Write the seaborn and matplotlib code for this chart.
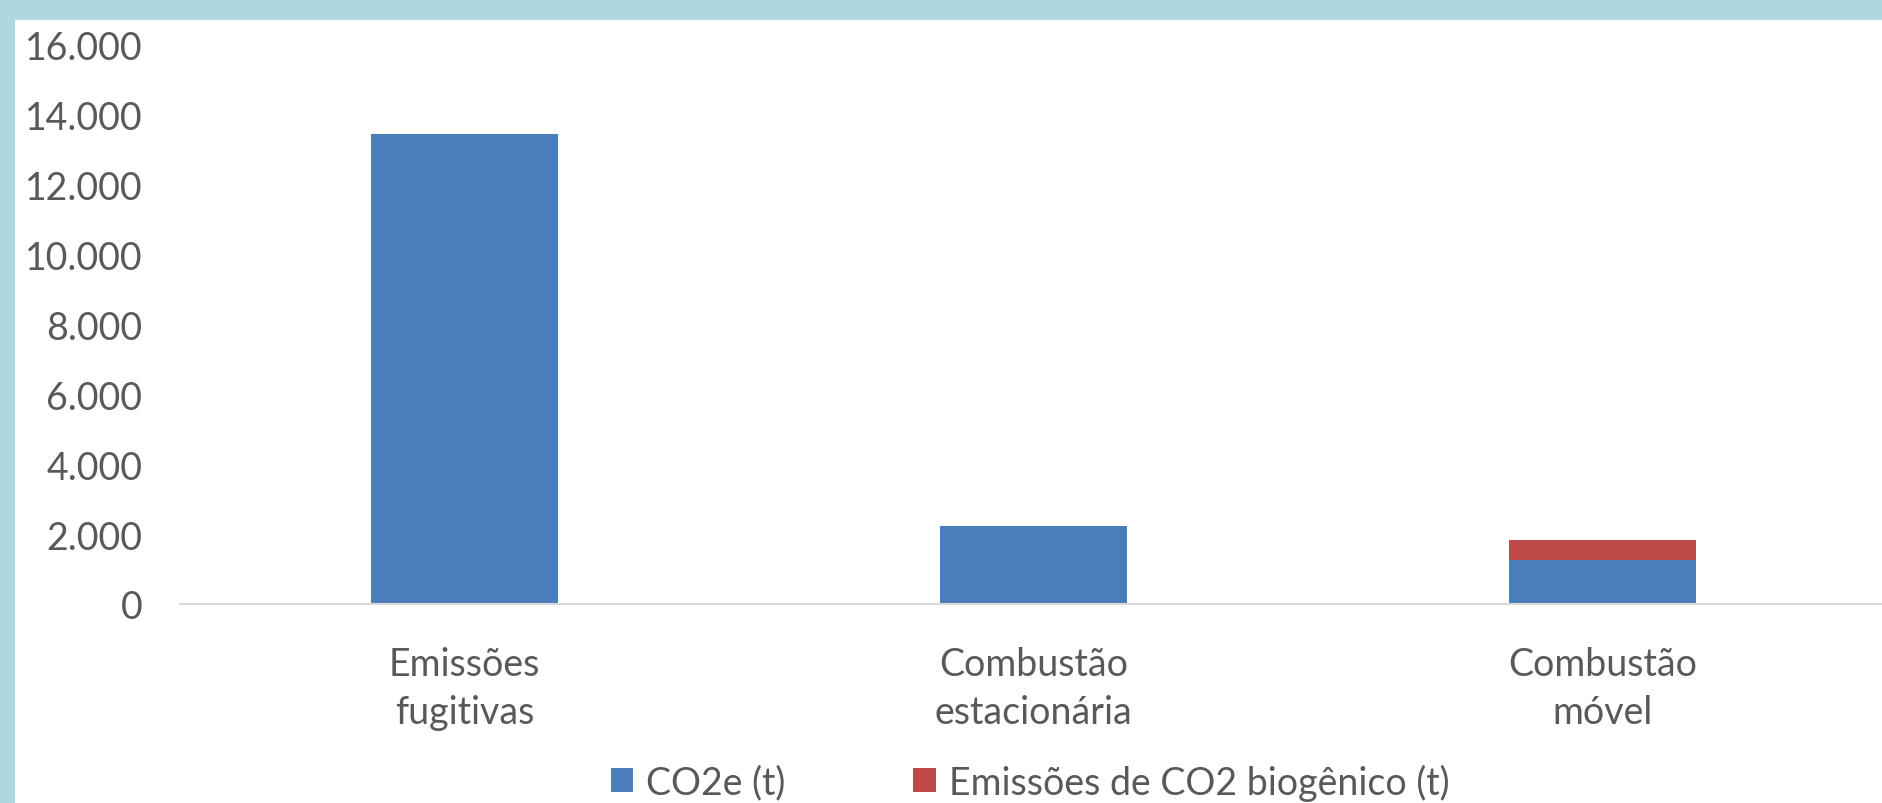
import matplotlib
matplotlib.use("Agg")
import matplotlib.pyplot as plt
from matplotlib.patches import Patch
from matplotlib.ticker import FuncFormatter, MultipleLocator
import seaborn as sns
import pandas as pd

categories = ["Emissões\nfugitivas", "Combustão\nestacionária", "Combustão\nmóvel"]
co2e = [13450, 2220, 1270]
biogenico = [0, 0, 550]
series_names = ["CO2e (t)", "Emissões de CO2 biogênico (t)"]

BLUE = "#4A7EBB"
RED = "#BE4B48"
FRAME = "#ADD8E0"
TEXT = "#595959"

sns.set_theme(style="white")
plt.rcParams["font.family"] = ["Lato", "DejaVu Sans"]

W, H = 1882, 804
fig = plt.figure(figsize=(W / 100, H / 100), dpi=100)
fig.patch.set_facecolor(FRAME)

bg = fig.add_axes([15 / W, 0, 1 - 15 / W, (H - 21) / H], zorder=-1)
bg.set_facecolor("white")
bg.set_xticks([])
bg.set_yticks([])
for s in bg.spines.values():
    s.set_visible(False)

ax_left, ax_right = 180, 1887
ax_bottom, ax_top = 605, 46
ax = fig.add_axes([ax_left / W, (H - ax_bottom) / H,
                   (ax_right - ax_left) / W, (ax_bottom - ax_top) / H], zorder=1)
ax.set_facecolor("none")

totals = [a + b for a, b in zip(co2e, biogenico)]
df = pd.DataFrame({"cat": categories, "co2e": co2e, "total": totals})

sns.barplot(data=df, x="cat", y="total", color=RED, width=0.33,
            saturation=1, linewidth=0, ax=ax, zorder=2)
sns.barplot(data=df, x="cat", y="co2e", color=BLUE, width=0.33,
            saturation=1, linewidth=0, ax=ax, zorder=3)

ax.set_xlim(-0.5, 2.5)
ax.set_ylim(0, 16000)
ax.yaxis.set_major_locator(MultipleLocator(2000))
ax.yaxis.set_major_formatter(FuncFormatter(lambda v, p: f"{int(v):,}".replace(",", ".")))
ax.set_xlabel("")
ax.set_ylabel("")
ax.tick_params(axis="both", length=0, labelsize=27, colors=TEXT)
ax.tick_params(axis="y", pad=27)
ax.tick_params(axis="x", pad=30)
for lbl in ax.get_xticklabels():
    lbl.set_linespacing(1.42)
for s in ["top", "right", "left"]:
    ax.spines[s].set_visible(False)
ax.spines["bottom"].set_color("#D9D9D9")
ax.spines["bottom"].set_linewidth(1.5)
ax.spines["bottom"].set_zorder(4)

handles = [Patch(facecolor=BLUE, edgecolor="none", label=series_names[0]),
           Patch(facecolor=RED, edgecolor="none", label=series_names[1])]
leg = fig.legend(handles=handles, loc="center", bbox_to_anchor=(1030 / W, (H - 783) / H),
                 ncol=2, frameon=False, fontsize=27, labelcolor=TEXT,
                 handlelength=0.6, handleheight=0.6, handletextpad=0.35,
                 columnspacing=3.4)
leg.set_zorder(5)

fig.savefig("out.png", dpi=100, facecolor=fig.get_facecolor())
